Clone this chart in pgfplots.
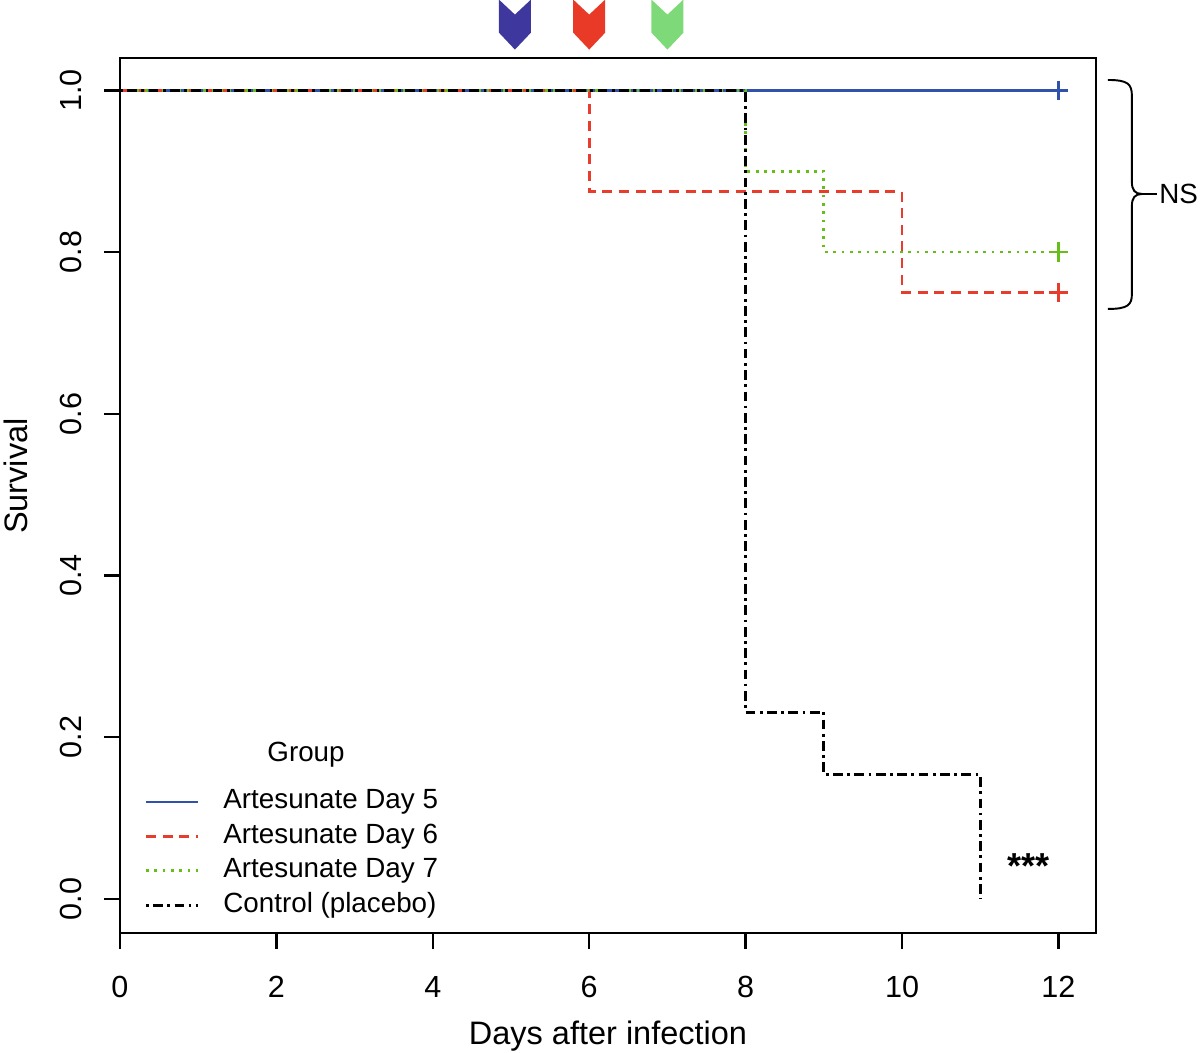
\documentclass[border=0pt]{standalone}
\usepackage{fontspec}
\setmainfont{Liberation Sans}
\usepackage{pgfplots}
\pgfplotsset{compat=1.18}

\definecolor{cBlue}{RGB}{48,82,170}
\definecolor{cRed}{RGB}{232,60,44}
\definecolor{cGreen}{RGB}{102,190,24}
\definecolor{aBlue}{RGB}{62,56,158}
\definecolor{aRed}{RGB}{232,58,38}
\definecolor{aGreen}{RGB}{126,218,120}

% treatment-day arrow
\pgfdeclareplotmark{chevron}{%
  \pgfpathmoveto{\pgfpoint{-5.76pt}{9pt}}%
  \pgfpathlineto{\pgfpoint{0pt}{3.6pt}}%
  \pgfpathlineto{\pgfpoint{5.76pt}{9pt}}%
  \pgfpathlineto{\pgfpoint{5.76pt}{-2.9pt}}%
  \pgfpathlineto{\pgfpoint{0pt}{-9pt}}%
  \pgfpathlineto{\pgfpoint{-5.76pt}{-2.9pt}}%
  \pgfpathclose
  \pgfusepathqfill}

\begin{document}
\begin{tikzpicture}
\begin{axis}[
  scale only axis, width=351.4pt, height=315pt,
  xmin=0, xmax=12.48, ymin=-0.042, ymax=1.04,
  clip=false,
  axis line style={line width=0.9pt},
  tick pos=left, tick align=outside, major tick length=5.8pt,
  tick style={line width=0.9pt, black},
  xtick={0,2,4,6,8,10,12}, ytick={0,0.2,0.4,0.6,0.8,1},
  /pgf/number format/assume math mode=true,
  ticklabel style={font=\fontsize{11}{13}\selectfont},
  yticklabel style={rotate=90, anchor=south, /pgf/number format/.cd, fixed, fixed zerofill, precision=1},
  xticklabel style={anchor=north},
  xticklabel shift=6.3pt, yticklabel shift=4.3pt,
  xlabel={Days after infection}, ylabel={Survival},
  label style={font=\fontsize{11.7}{14}\selectfont},
  xlabel style={at={(rel axis cs:0.5,-0.128)}, anchor=base},
  ylabel style={at={(rel axis cs:-0.0943,0.522)}, anchor=base},
  legend style={draw=none, fill=none, at={(rel axis cs:0.0246,0.170)}, anchor=north west,
    inner sep=0pt, row sep=0pt, font=\fontsize{10}{12}\selectfont,
    nodes={inner xsep=0pt, inner ysep=1.2pt, text height=7.5pt, text depth=2.5pt},
    /tikz/every odd column/.append style={column sep=8.7pt}},
  legend cell align=left,
  legend image code/.code={\draw[#1] (0pt,0pt) -- (18.7pt,0pt);},
]
\addplot[cBlue, line width=1pt, const plot] coordinates {(0,1) (12,1)};
\addlegendentry{Artesunate Day 5}
\addplot[cRed, line width=1pt, const plot, dash pattern=on 3.6pt off 2.4pt] coordinates {(0,1) (6,0.875) (10,0.75) (12,0.75)};
\addlegendentry{Artesunate Day 6}
\addplot[cGreen, line width=1pt, const plot, dash pattern=on 1pt off 2pt] coordinates {(0,1) (8,0.9) (9,0.8) (12,0.8)};
\addlegendentry{Artesunate Day 7}
\addplot[black, line width=1pt, const plot, dash pattern=on 1pt off 1.6pt on 3.5pt off 1.6pt] coordinates {(0,1) (8,0.2308) (9,0.1538) (11,0)};
\addlegendentry{Control (placebo)}

% censoring marks
\addplot[forget plot, only marks, mark=+, mark size=3.5pt, cBlue, line width=0.9pt] coordinates {(12,1)};
\addplot[forget plot, only marks, mark=+, mark size=3.5pt, cRed, line width=0.9pt] coordinates {(12,0.75)};
\addplot[forget plot, only marks, mark=+, mark size=3.5pt, cGreen, line width=0.9pt] coordinates {(12,0.8)};

% treatment days
\addplot[forget plot, only marks, mark=chevron, aBlue] coordinates {(5.05,1.0813)};
\addplot[forget plot, only marks, mark=chevron, aRed] coordinates {(6.0,1.0813)};
\addplot[forget plot, only marks, mark=chevron, aGreen] coordinates {(7.0,1.0813)};

\node[font=\fontsize{10}{12}\selectfont] at (axis cs:2.379,0.178) {Group};
\node[font=\fontsize{13}{15}\selectfont\bfseries] at (axis cs:11.62,0.041) {***};
\end{axis}
% brace and NS label, in pixel units of the reference
\begin{scope}[shift={(current axis.south west)}, x=0.36pt, y=-0.36pt, shift={(-120,-933)}, line width=0.7pt]
\draw (1108,80) .. controls (1128,80) and (1132,84) .. (1132,96) -- (1132,182)
  .. controls (1132,190) and (1135,194) .. (1142,194)
  .. controls (1135,194) and (1132,198) .. (1132,206) -- (1132,294)
  .. controls (1132,305) and (1128,309) .. (1108,309);
\draw (1142,194) -- (1157,194) node[right, inner sep=0.5pt, font=\fontsize{10}{12}\selectfont] {NS};
\end{scope}
\pgfresetboundingbox
\path[use as bounding box] (current axis.south west) ++(-43.2pt,-43.2pt) rectangle ([xshift=37.44pt,yshift=20.88pt]current axis.north east);
\end{tikzpicture}
\end{document}
